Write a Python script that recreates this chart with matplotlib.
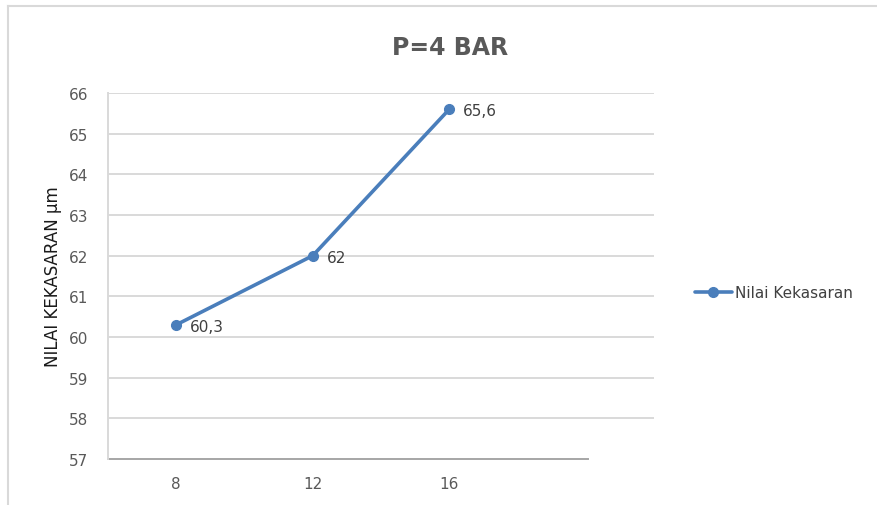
import matplotlib.pyplot as plt
from matplotlib.lines import Line2D

# Data
categories = ['8', '12', '16']
values = [60.3, 62.0, 65.6]
value_labels = ['60,3', '62', '65,6']
y_ticks = [57, 58, 59, 60, 61, 62, 63, 64, 65, 66]

line_color = '#4a7ebb'
grid_color = '#d9d9d9'
text_gray = '#595959'

fig = plt.figure(figsize=(8.78, 5.06), dpi=100)
ax = fig.add_axes([108 / 878, 1 - 460 / 506, (654 - 108) / 878, (460 - 94) / 506])

x = list(range(len(categories)))
ax.plot(x, values, color=line_color, linewidth=2.6, marker='o', markersize=7,
        label='Nilai Kekasaran', zorder=3, solid_capstyle='round')

for xi, v, lab in zip(x, values, value_labels):
    ax.annotate(lab, (xi, v), xytext=(10, -1), textcoords='offset points',
                ha='left', va='center', fontsize=11, color='#404040')

ax.set_xlim(-0.5, 3.5)
ax.set_ylim(57, 66)
ax.set_yticks(y_ticks)
ax.set_xticks(x)
ax.set_xticklabels(categories)
ax.grid(axis='y', color=grid_color, linewidth=1.4)
ax.get_ygridlines()[0].set_visible(False)
ax.set_axisbelow(True)

for side in ['top', 'right', 'bottom']:
    ax.spines[side].set_visible(False)
ax.spines['left'].set_color(grid_color)
ax.spines['left'].set_linewidth(1.4)
# category axis line stops after the third slot
ax.axhline(57, xmin=0, xmax=(588 - 108) / (654 - 108), color='#a6a6a6',
           linewidth=1.4, zorder=2, clip_on=False)

ax.tick_params(axis='both', length=0, labelsize=11, labelcolor=text_gray)
ax.tick_params(axis='y', pad=14)
ax.tick_params(axis='x', pad=12)

ax.set_ylabel('NILAI KEKASARAN µm', fontsize=12, color='#1a1a1a')
ax.yaxis.set_label_coords(-0.084, 0.5)

fig.text(450 / 878, 1 - 48 / 506, 'P=4 BAR', ha='center', va='center',
         fontsize=17, fontweight='bold', color=text_gray)

ax.legend(loc='center left', bbox_to_anchor=(1.05, 0.455), frameon=False,
          fontsize=11, labelcolor='#404040', handlelength=2.4, handletextpad=0.2)

# outer chart border (top and left)
fig.add_artist(Line2D([8 / 878, 1], [1 - 7 / 506, 1 - 7 / 506],
                      color=grid_color, linewidth=1.5, transform=fig.transFigure))
fig.add_artist(Line2D([8 / 878, 8 / 878], [0, 1 - 7 / 506],
                      color=grid_color, linewidth=1.5, transform=fig.transFigure))

fig.savefig('out.png', dpi=100)
